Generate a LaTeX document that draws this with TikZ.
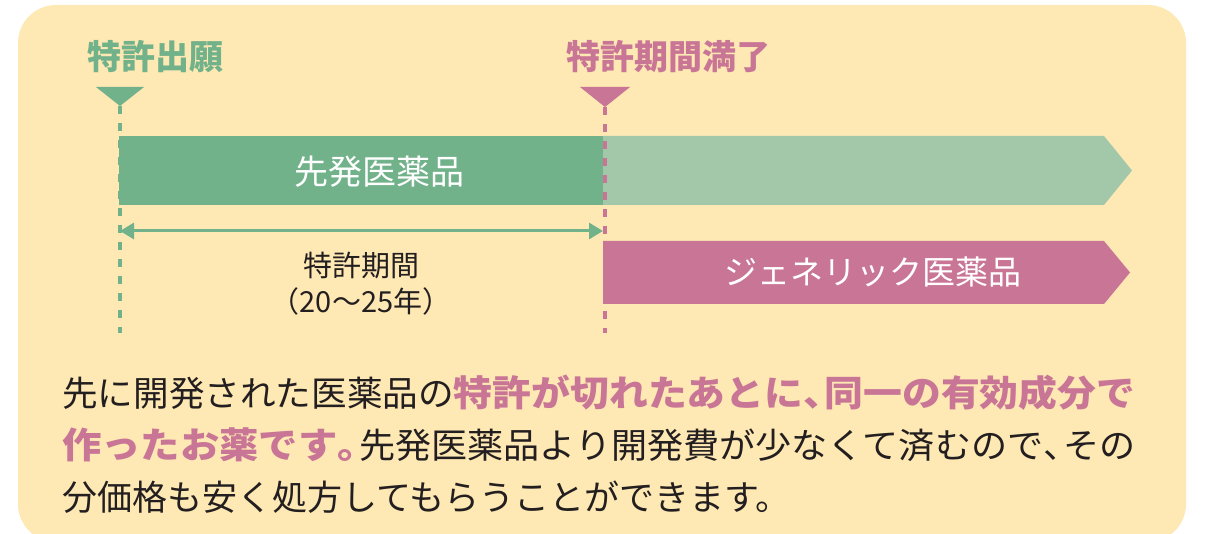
\documentclass[tikz,border=0pt]{standalone}
\usepackage{fontspec}
\usepackage{graphicx}
\setmainfont{Noto Sans CJK JP}
\usetikzlibrary{arrows.meta}
\definecolor{bg}{HTML}{FEE8B4}
\definecolor{gdark}{HTML}{72B28A}
\definecolor{glight}{HTML}{A3C7A9}
\definecolor{pinkc}{HTML}{C97596}
\definecolor{inkc}{HTML}{231F20}
\newcommand\fs[1]{\fontsize{#1pt}{#1pt}\selectfont}
\newcommand\pinkpart[1]{\scalebox{1.06}[1]{\textcolor{pinkc}{\bfseries\fs{36}#1}}}
\newcommand\halfp[1]{\makebox[0.55em][l]{#1}}
\tikzset{
  lbl/.style={inner sep=0pt, font=\bfseries\fs{34}},
  bartext/.style={inner sep=0pt, text=white, font=\fs{34}},
  period/.style={inner sep=0pt, text=inkc, font=\fs{29}},
  body/.style={inner sep=0pt, anchor=base west, text=inkc, font=\fs{35}},
  marker/.style={line width=4pt, dash pattern=on 8pt off 9pt},
}
\begin{document}
\begin{tikzpicture}[x=1pt,y=-1pt]
\useasboundingbox (0,0) rectangle (1210,534);
\fill[bg, rounded corners=38pt] (18,5) rectangle (1186,542);

% bars
\fill[glight] (603,136) -- (1104,136) -- (1132,170.5) -- (1104,205) -- (603,205) -- cycle;
\fill[gdark] (119,136) rectangle (603,205);
\fill[pinkc] (603,241) -- (1104,241) -- (1130,272.5) -- (1104,304) -- (603,304) -- cycle;

% markers
\coordinate (gtop) at (120,106);
\coordinate (gbot) at (120,333);
\coordinate (ptop) at (605,107);
\coordinate (pbot) at (605,333);
\fill[gdark] (96,87) -- (144,87) -- (gtop) -- cycle;
\fill[pinkc] (580,87) -- (630,87) -- (ptop) -- cycle;
\draw[gdark, marker] (gtop) -- (gbot);
\draw[pinkc, marker] (ptop) -- (pbot);

% period arrow
\coordinate (as) at (120,231);
\coordinate (ae) at (603,231);
\draw[gdark, line width=3pt, {Triangle[length=14pt,width=16pt]}-{Triangle[length=14pt,width=16pt]}] (as) -- (ae);

% labels
\node[lbl, text=gdark] (l1) at (155,57) {特許出願};
\node[lbl, text=pinkc] (l2) at (668,57) {特許期間満了};
\node[bartext] (t1) at (379,172) {先発医薬品};
\node[bartext, font=\fs{33}] (t2) at (873,272) {ジェネリック医薬品};
\node[period] (t3) at (361,266) {特許期間};
\node[period] (t4) at (361,301) {（20〜25年）};

% body text
\node[body] (b1) at (62,406) {\resizebox{1073pt}{\height}{先に開発された医薬品の\pinkpart{特許が切れたあとに\halfp{、}同一の有効成分で}}};
\node[body] (b2) at (62,458) {\resizebox{1073pt}{\height}{\pinkpart{作ったお薬です\halfp{。}}先発医薬品より開発費が少なくて済むので\halfp{、}その}};
\node[body] (b3) at (62,510) {分価格も安く処方してもらうことができます。};
\end{tikzpicture}
\end{document}
